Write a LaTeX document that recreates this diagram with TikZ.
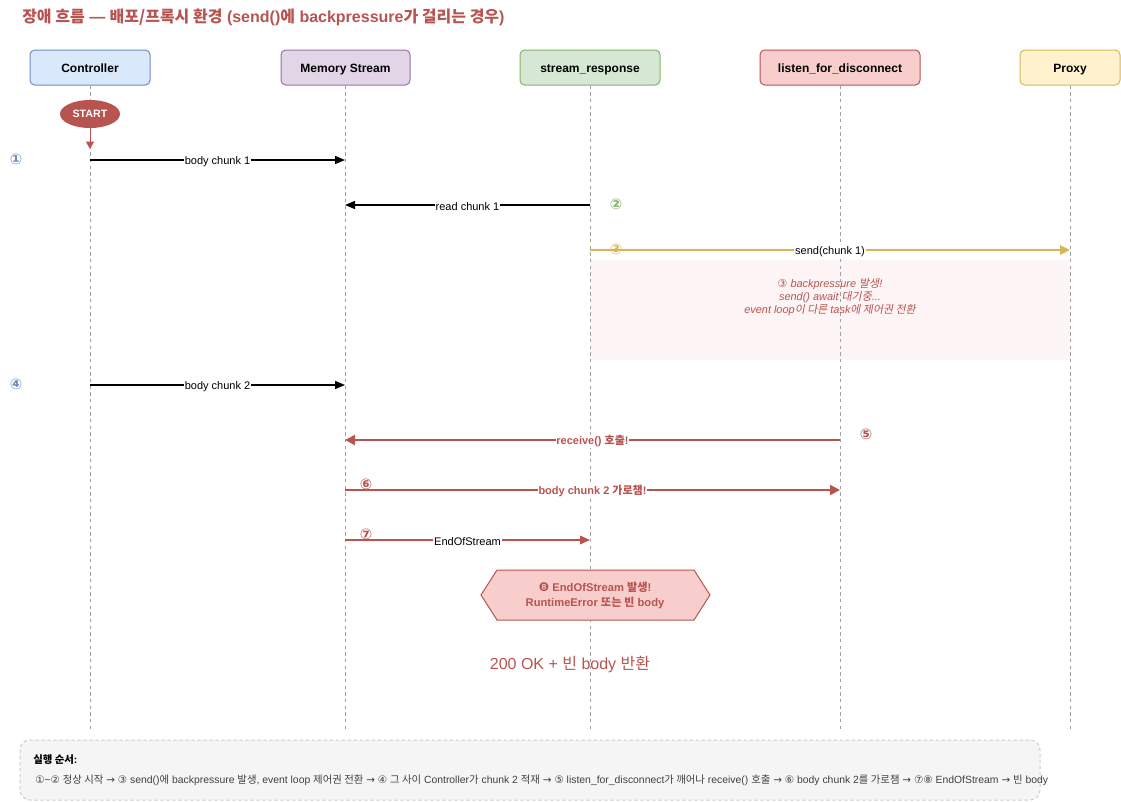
\documentclass[tikz,border=0pt]{standalone}
\usepackage{fontspec}
\setmainfont{Liberation Sans}
\newfontfamily\kr{Noto Sans CJK KR}
\newfontfamily\krit[FakeSlant=0.2]{Noto Sans CJK KR}
\newfontfamily\sym{DejaVu Sans}
\usetikzlibrary{arrows.meta,shapes.geometric}
\definecolor{redD}{HTML}{B85450}
\definecolor{redF}{HTML}{F8CECC}
\definecolor{blueD}{HTML}{6C8EBF}
\definecolor{blueF}{HTML}{DAE8FC}
\definecolor{purD}{HTML}{9673A6}
\definecolor{purF}{HTML}{E1D5E7}
\definecolor{grnD}{HTML}{82B366}
\definecolor{grnF}{HTML}{D5E8D4}
\definecolor{golD}{HTML}{D6B656}
\definecolor{golF}{HTML}{FFF2CC}
\definecolor{lifeC}{HTML}{A0A0A0}
\definecolor{noteF}{HTML}{FDF5F5}
\definecolor{boxF}{HTML}{F5F5F5}
\definecolor{boxD}{HTML}{CCCCCC}
\tikzset{
  hdr/.style={rectangle, rounded corners=3.5pt, line width=0.75pt, minimum height=26.25pt,
    font=\fontsize{9}{10}\selectfont\bfseries, inner sep=0pt, text height=8.8pt, text depth=1.6pt},
  life/.style={draw=lifeC, line width=0.75pt, dash pattern=on 2.5pt off 2.5pt},
  msg/.style={draw=black, line width=1pt, -{Triangle[length=7.5pt,width=6pt]}},
  msgred/.style={draw=redD, line width=1.6pt, -{Triangle[length=7.5pt,width=7.5pt]}},
  msgredthin/.style={draw=redD, line width=1pt, -{Triangle[length=7.5pt,width=6.5pt]}},
  msggold/.style={draw=golD, line width=1.6pt, -{Triangle[length=7.5pt,width=7pt]}},
  lbl/.style={fill=white, inner sep=0.6pt, font=\fontsize{8.25}{9}\selectfont, text=black, yshift=-1pt},
  lblred/.style={fill=white, inner sep=0.6pt, font=\fontsize{8.25}{9}\selectfont\bfseries, text=redD, yshift=-1pt},
  num/.style={font=\sym\bfseries\fontsize{11}{12}\selectfont, inner sep=0pt},
}
\begin{document}
\begin{tikzpicture}[x=0.75pt,y=-0.75pt]
\useasboundingbox (0,0) rectangle (1121,801);

% title
\node[anchor=west, text=redD, font=\fontsize{12}{14}\selectfont\bfseries, inner sep=0pt] (title) at (22,17)
  {{\kr 장애 흐름} — {\kr 배포/프록시 환경} (send(){\kr 에} backpressure{\kr 가 걸리는 경우})};

% note background
\fill[noteF] (590,260) rectangle (1070,360);

% headers
\node[hdr, fill=blueF, draw=blueD, minimum width=90pt] (ctl) at (90,67.5) {Controller};
\node[hdr, fill=purF, draw=purD, minimum width=96.75pt] (mem) at (345.5,67.5) {Memory Stream};
\node[hdr, fill=grnF, draw=grnD, minimum width=105pt] (srs) at (590,67.5) {stream\_response};
\node[hdr, fill=redF, draw=redD, minimum width=120pt] (lfd) at (840,67.5) {listen\_for\_disconnect};
\node[hdr, fill=golF, draw=golD, minimum width=75pt] (prx) at (1070,67.5) {Proxy};

% lifeline ends
\coordinate (ctlE) at (90,730);
\coordinate (memE) at (345,730);
\coordinate (srsE) at (590,730);
\coordinate (lfdE) at (840,730);
\coordinate (prxE) at (1070,730);
\draw[life] (ctl.south) -- (ctlE);
\draw[life] (mem.south -| memE) -- (memE);
\draw[life] (srs.south) -- (srsE);
\draw[life] (lfd.south) -- (lfdE);
\draw[life] (prx.south) -- (prxE);

% start
\node[ellipse, fill=redD, text=white, minimum width=45pt, minimum height=21pt, inner sep=0pt,
  font=\fontsize{8}{9}\selectfont\bfseries, yshift=0pt] (start) at (90,114) {START};
\coordinate (startT) at (90,149);
\draw[draw=redD, line width=0.6pt, -{Triangle[length=5.5pt,width=6pt]}] (start.south) -- (startT);

% message coordinates
\coordinate (c160) at (90,160);   \coordinate (m160) at (345,160);
\coordinate (s205) at (590,205);  \coordinate (m205) at (345,205);
\coordinate (s250) at (590,250);  \coordinate (p250) at (1070,250);
\coordinate (c385) at (90,385);   \coordinate (m385) at (345,385);
\coordinate (l440) at (840,440);  \coordinate (m440) at (345,440);
\coordinate (m490) at (345,490);  \coordinate (l490) at (840,490);
\coordinate (m540) at (345,540);  \coordinate (s540) at (590,540);

\draw[msg] (c160) -- node[lbl] (l1) {body chunk 1} (m160);
\draw[msg] (s205) -- node[lbl] (l2) {read chunk 1} (m205);
\draw[msggold] (s250) -- node[lbl] (l3) {send(chunk 1)} (p250);
\draw[msg] (c385) -- node[lbl] (l4) {body chunk 2} (m385);
\draw[msgred] (l440) -- node[lblred] (l5) {receive() {\kr 호출}!} (m440);
\draw[msgred] (m490) -- node[lblred] (l6) {body chunk 2 {\kr 가로챔}!} (l490);
\draw[msgredthin] (m540) -- node[lbl] (l7) {EndOfStream} (s540);

% step numbers
\node[num, text=blueD] (n1) at (16,159) {①};
\node[num, text=grnD] (n2) at (616,204) {②};
\node[num, text=golD] (n3) at (616,249) {③};
\node[num, text=blueD] (n4) at (16,384) {④};
\node[num, text=redD] (n5) at (866,434) {⑤};
\node[num, text=redD] (n6) at (366,484) {⑥};
\node[num, text=redD] (n7) at (366,534) {⑦};

% note text
\node[align=center, text=redD, font=\fontsize{8.2}{9.75}\selectfont\itshape, inner sep=0pt] (note) at (830,297.5)
  {{\sym\itshape ③} backpressure {\krit 발생}!\\ send() await {\krit 대기중}...\\ event loop{\krit 이 다른} task{\krit 에 제어권 전환}};

% hexagon
\draw[fill=redF, draw=redD, line width=0.75pt] (481,595) -- (497,570) -- (694,570) -- (710,595) -- (694,620) -- (497,620) -- cycle;
\node[align=center, text=redD, font=\fontsize{8.4}{11.25}\selectfont\bfseries, inner sep=0pt] (hex) at (595,595)
  {{\sym\mdseries\fontsize{9}{10}\selectfont ❽} EndOfStream {\kr 발생}!\\ RuntimeError {\kr 또는 빈} body};

% result
\node[text=redD, font=\fontsize{12}{14}\selectfont, inner sep=0pt] (res) at (570,665)
  {200 OK + {\kr 빈} body {\kr 반환}};

% bottom box
\draw[fill=boxF, draw=boxD, line width=0.75pt, dash pattern=on 2.5pt off 2pt, rounded corners=7.5pt] (20,740) rectangle (1040,800);
\node[anchor=west, font=\fontsize{7.8}{9}\selectfont\bfseries, inner sep=0pt] (ordt) at (33,760) {{\kr 실행 순서}:};
\node[anchor=west, font=\fontsize{7.8}{9}\selectfont, text=black!75, inner sep=0pt] (ord) at (35,780)
  {{\sym ①}\textasciitilde{\sym ②} {\kr 정상 시작} {\sym →} {\sym ③} send(){\kr 에} backpressure {\kr 발생}, event loop {\kr 제어권 전환} {\sym →} {\sym ④} {\kr 그 사이} Controller{\kr 가} chunk 2 {\kr 적재} {\sym →} {\sym ⑤} listen\_for\_disconnect{\kr 가 깨어나} receive() {\kr 호출} {\sym →} {\sym ⑥} body chunk 2{\kr 를 가로챔} {\sym →} {\sym ⑦⑧} EndOfStream {\sym →} {\kr 빈} body};
\end{tikzpicture}
\end{document}
